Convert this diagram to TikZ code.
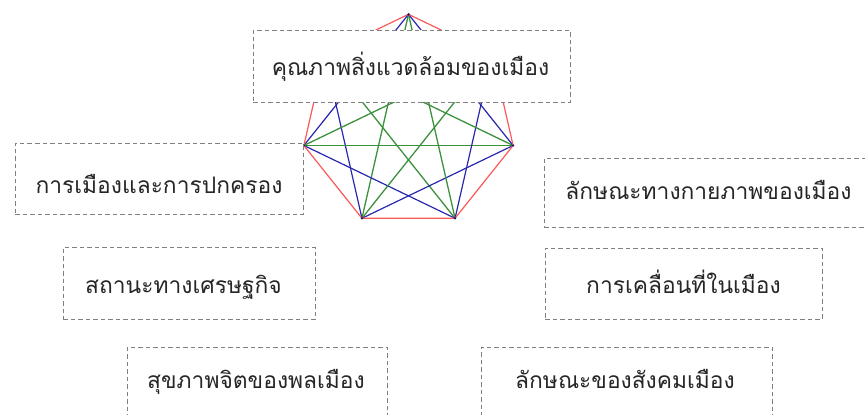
\documentclass[tikz,border=0pt]{standalone}
\usepackage{fontspec}
\newfontfamily\thaifont[Script=Thai]{Loma}
\definecolor{edgered}{RGB}{250,90,90}
\definecolor{edgeblue}{RGB}{40,40,175}
\definecolor{edgegreen}{RGB}{60,145,60}
\definecolor{boxgray}{RGB}{128,128,128}
\begin{document}
\begin{tikzpicture}[x=1pt,y=-1pt,
  vdot/.style={circle,fill=edgeblue!60!black,inner sep=0pt,minimum size=2.6pt},
  adj/.style={edgered,line width=1.2pt},
  skipone/.style={edgeblue,line width=1.2pt},
  skiptwo/.style={edgegreen,line width=1.3pt},
  dbox/.style={draw=boxgray,dash pattern=on 4.5pt off 3pt,line width=1pt,fill=white,inner sep=0pt},
  lbl/.style={font=\thaifont\fontsize{22.8}{27}\selectfont,text=black!85,anchor=base,inner sep=0pt}]
\useasboundingbox (0,0) rectangle (865,415);
\clip (0,0) rectangle (865,415);
% heptagon vertices
\foreach \i in {0,...,6}{
  \pgfmathsetmacro\ang{90+360/7*\i}
  \coordinate (v\i) at ({408.5+107.3*cos(\ang)},{121.6-107.3*sin(\ang)});
}
% edges
\foreach \i in {0,...,6}{
  \pgfmathtruncatemacro\ja{mod(\i+1,7)}
  \pgfmathtruncatemacro\jb{mod(\i+2,7)}
  \pgfmathtruncatemacro\jc{mod(\i+3,7)}
  \draw[skiptwo] (v\i) -- (v\jc);
  \draw[skipone] (v\i) -- (v\jb);
  \draw[adj] (v\i) -- (v\ja);
}
\foreach \i in {0,...,6}{
  \node[vdot] (d\i) at (v\i) {};
}
% boxes
\node[dbox,minimum width=317pt,minimum height=72pt] (b1) at (411.5,66) {};
\node[dbox,minimum width=288pt,minimum height=71pt] (b2) at (159,178.5) {};
\node[dbox,minimum width=329pt,minimum height=69pt] (b3) at (708.5,192.5) {};
\node[dbox,minimum width=252pt,minimum height=72pt] (b4) at (189,283) {};
\node[dbox,minimum width=277pt,minimum height=71pt] (b5) at (683.5,283.5) {};
\node[dbox,minimum width=260pt,minimum height=73pt] (b6) at (257,383.5) {};
\node[dbox,minimum width=291pt,minimum height=73pt] (b7) at (626.5,383.5) {};
% labels
\node[lbl] (t1) at (410.5,75) {คุณภาพสิ่งแวดล้อมของเมือง};
\node[lbl] (t2) at (159,193) {การเมืองและการปกครอง};
\node[lbl] (t3) at (708.5,199) {ลักษณะทางกายภาพของเมือง};
\node[lbl] (t4) at (183.5,293) {สถานะทางเศรษฐกิจ};
\node[lbl] (t5) at (683.5,293) {การเคลื่อนที่ในเมือง};
\node[lbl] (t6) at (256,388) {สุขภาพจิตของพลเมือง};
\node[lbl] (t7) at (625,388) {ลักษณะของสังคมเมือง};
\end{tikzpicture}
\end{document}
